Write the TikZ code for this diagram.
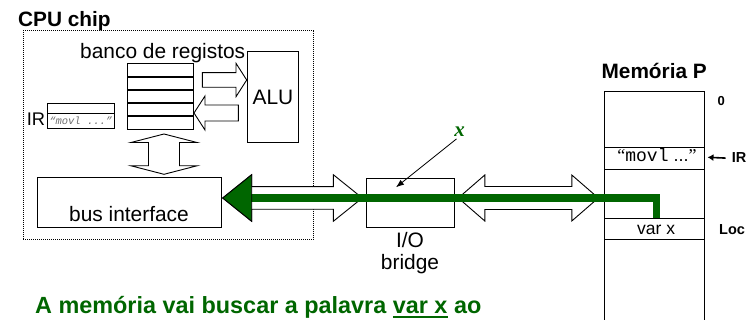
\documentclass[tikz,border=0pt]{standalone}
\usepackage{fontspec}
\setmainfont{Liberation Sans}
\setmonofont{Liberation Mono}
\newfontfamily\serifx{Liberation Serif}
\usetikzlibrary{arrows.meta,calc}
\definecolor{dgreen}{HTML}{006600}
\definecolor{irgray}{HTML}{6E6E6E}
\newcommand\hdblarrow[6]{%
  \draw[blk] (#1,#3) -- ({#1+#4},{#3-#6}) -- ({#1+#4},{#3-#5}) -- ({#2-#4},{#3-#5}) -- ({#2-#4},{#3-#6}) -- (#2,#3) -- ({#2-#4},{#3+#6}) -- ({#2-#4},{#3+#5}) -- ({#1+#4},{#3+#5}) -- ({#1+#4},{#3+#6}) -- cycle;}
\newcommand\vdblarrow[6]{%
  \draw[blk] (#1,#2) -- ({#1+#6},{#2+#4}) -- ({#1+#5},{#2+#4}) -- ({#1+#5},{#3-#4}) -- ({#1+#6},{#3-#4}) -- (#1,#3) -- ({#1-#6},{#3-#4}) -- ({#1-#5},{#3-#4}) -- ({#1-#5},{#2+#4}) -- ({#1-#6},{#2+#4}) -- cycle;}
\newcommand\sglarrow[6]{%
  \draw[blk] (#1,{#4-#5}) -- (#2,{#4-#5}) -- (#2,{#4-#6}) -- (#3,#4) -- (#2,{#4+#6}) -- (#2,{#4+#5}) -- (#1,{#4+#5}) -- cycle;}
\newcommand\myul[1]{\setbox0\hbox{#1}\rlap{\rule[-4.4pt]{\wd0}{2pt}}\box0\relax}
\begin{document}
\begin{tikzpicture}[x=1pt,y=-1pt,
  box/.style={draw=black, line width=0.9pt, fill=white, inner sep=0pt, anchor=north west},
  blk/.style={draw=black, line width=0.9pt, fill=white, line join=miter},
  txt/.style={inner sep=0pt, font=\fontsize{20.9}{25}\selectfont},
  btxt/.style={inner sep=0pt, font=\fontsize{20.8}{25}\selectfont\bfseries},
  sidelab/.style={inner sep=0pt, font=\fontsize{14.5}{17}\selectfont\bfseries, anchor=base west},
  thickrule/.style={line width=1.8pt},
  greenbus/.style={draw=dgreen, line width=7.5pt, line join=miter}]
\useasboundingbox (0,0) rectangle (748,320);

% CPU chip
\node[btxt, anchor=base west] (cputitle) at (18,26.7) {CPU chip};
\node[draw=black, line width=0.8pt, dash pattern=on 0.8pt off 1.2pt, inner sep=0pt,
      minimum width=290.6pt, minimum height=209.3pt, anchor=north west] (cpu) at (22.7,30) {};

% register bank
\node[box, minimum width=66pt, minimum height=65.7pt] (regbank) at (127.3,63.3) {};
\foreach \yy in {76.7,90,102.7,116}
  \draw[thickrule] (127.3,\yy) -- (193.3,\yy);
\node[txt, anchor=base west] (bancolab) at (80,58.3) {banco de registos};

% ALU
\node[box, minimum width=51pt, minimum height=91pt] (alu) at (247,51) {};
\node[txt] (alulab) at (alu.center) {ALU};

% arrows between register bank and ALU
\sglarrow{202.3}{236}{246.7}{80}{7.3}{16.7}
\sglarrow{238.3}{205}{194}{113}{8}{17}

% IR
\node[box, minimum width=67pt, minimum height=24.7pt] (irbox) at (47.3,103.3) {};
\draw[thickrule] (47.3,113.5) -- (114.3,113.5);
\node[inner sep=0pt, font=\fontsize{10.5}{12}\selectfont\ttfamily\itshape, text=irgray] (irtext) at (80.8,121) {“movl ...”};
\node[inner sep=0pt, font=\fontsize{18.3}{22}\selectfont, anchor=base west] (irlab) at (26.7,125.3) {IR};

% register bank <-> bus interface
\vdblarrow{164}{134}{174.3}{8.5}{15.5}{33}

% bus interface
\node[box, minimum width=183.4pt, minimum height=50pt] (busif) at (37.3,177.3) {};
\node[txt, anchor=base] (busiflab) at (129,221.7) {bus interface};

% I/O bridge
\node[box, minimum width=88.6pt, minimum height=49.6pt] (bridge) at (365.7,177.7) {};
\node[txt, anchor=base] (iolab) at (410,247.7) {I/O};
\node[txt, anchor=base] (bridgelab) at (410,270) {bridge};

% bus arrows
\hdblarrow{222.7}{362.3}{198}{29}{11.3}{23.3}
\hdblarrow{458.3}{598.3}{198}{26.5}{11.5}{23}

% memory
\node[btxt, anchor=base] (memtitle) at (654.2,78.3) {Memória P};
\node[draw=black, line width=0.9pt, inner sep=0pt, minimum width=99.7pt, minimum height=250pt, anchor=north west] (mem) at (604.3,90.7) {};
\node[box, minimum width=99.7pt, minimum height=22pt] (movlcell) at (604.3,146.7) {};
\node[box, minimum width=99.7pt, minimum height=21.6pt] (varxcell) at (604.3,217.7) {};
\node[inner sep=0pt, font=\fontsize{18}{21}\selectfont, anchor=base] (movlmem) at (657,161.7) {{\serifx “}\texttt{movl} ...{\serifx ”}};
\node[inner sep=0pt, font=\fontsize{17.5}{21}\selectfont, anchor=base] (varxlab) at (656.2,235) {var x};

% side labels
\node[inner sep=0pt, font=\fontsize{13}{15}\selectfont\bfseries, anchor=base west] (zero) at (717.3,105.7) {0};
\node[sidelab] (irmem) at (731.7,162.7) {IR};
\coordinate (irarrowtip) at (707.5,157.3);
\draw[line width=1.6pt, -{Latex[length=6pt,width=7pt]}] ([xshift=-6pt,yshift=4.6pt]irmem.base west) -- (irarrowtip);
\node[sidelab] (loclab) at (719,235) {Loc};

% green data path
\coordinate (gcorner) at (656.3,198);
\draw[greenbus] (varxcell.north -| gcorner) -- (gcorner) -- (251,198);
\draw[draw=black, line width=0.9pt, fill=dgreen, line join=miter] (222.7,198) -- (251.7,174.7) -- (251.7,221.3) -- cycle;

% x label
\node[inner sep=0pt, font=\fontsize{21}{24}\selectfont\serifx\bfseries\itshape, text=dgreen, anchor=base] (xlab) at (459.5,136.7) {x};
\coordinate (xtip) at (396,187.3);
\draw[line width=0.8pt, -{Latex[length=8pt,width=6pt]}] ([xshift=-3pt,yshift=-2pt]xlab.south) -- (xtip);

% bottom text
\node[inner sep=0pt, font=\fontsize{23.4}{28}\selectfont\bfseries, text=dgreen, anchor=base west] (caption) at (35,313.3) {A memória vai buscar a palavra \myul{var x} ao};
\end{tikzpicture}
\end{document}
